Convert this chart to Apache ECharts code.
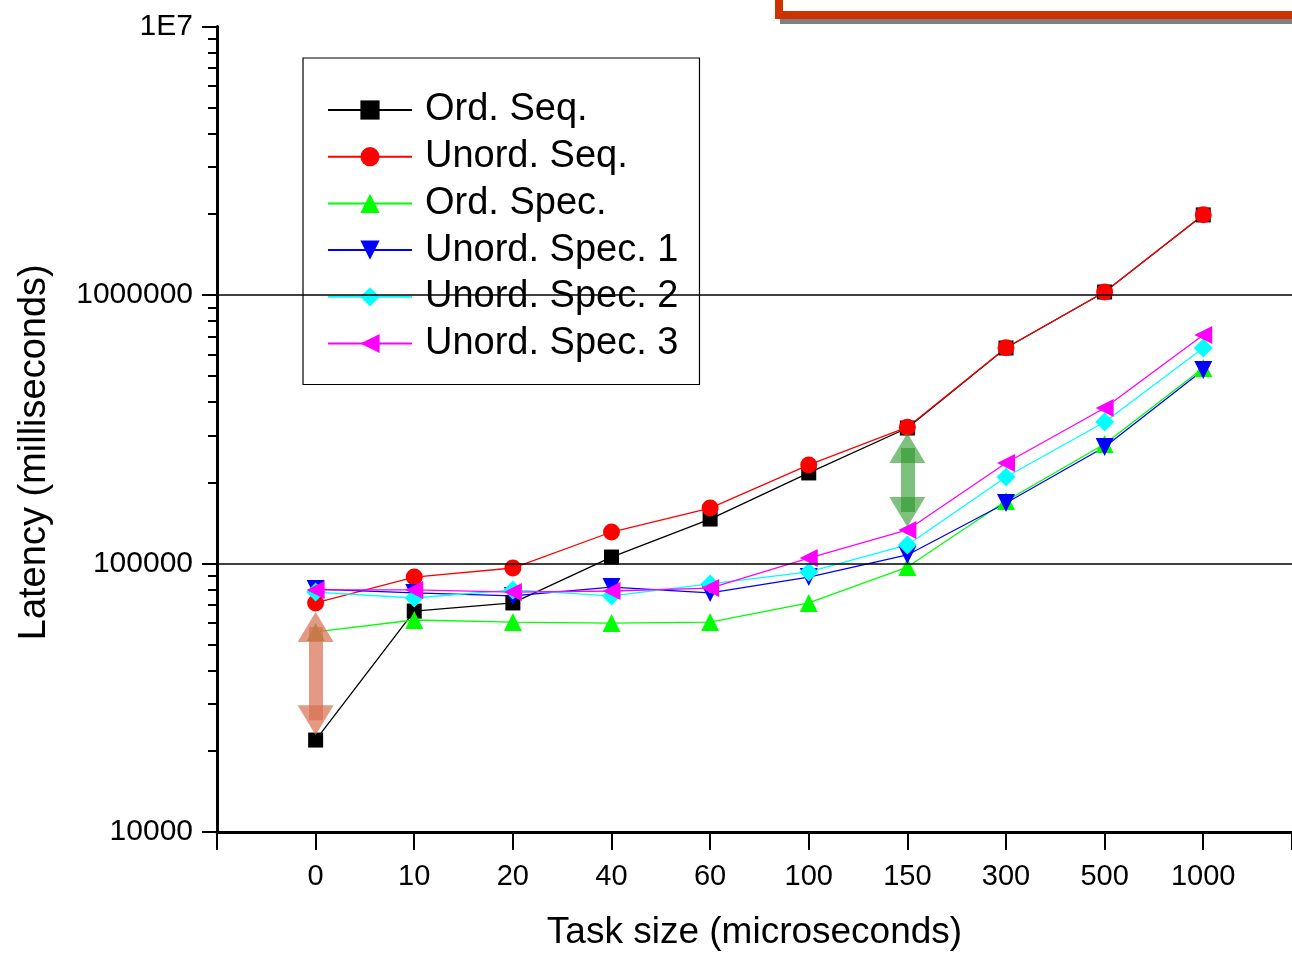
<!DOCTYPE html>
<html>
<head>
<meta charset="utf-8">
<script src="https://cdn.jsdelivr.net/npm/echarts@6/dist/echarts.min.js"></script>
<style>
html, body { margin: 0; padding: 0; background: #fff; }
#chart { width: 1292px; height: 953px; }
</style>
</head>
<body>
<div id="chart"></div>
<script>
var taskSizes = ['0', '10', '20', '40', '60', '100', '150', '300', '500', '1000'];

// latency in milliseconds
var ordSeq      = [22000, 66500, 71300, 105700, 146400, 217400, 319600, 634800, 1026000, 1987000];
var unordSeq    = [71300, 89000, 96200, 131000, 160900, 232800, 322000, 636000, 1026000, 1990000];
var ordSpec     = [55600, 61600, 60500, 60000, 60500, 71300, 97000, 170900, 278700, 534800];
var unordSpec1  = [80300, 77700, 75700, 81700, 77700, 89000, 107600, 168000, 271600, 525600];
var unordSpec2  = [78300, 74400, 79700, 75700, 83900, 93000, 117200, 210000, 336500, 634800];
var unordSpec3  = [79700, 79700, 78300, 79000, 81000, 104800, 133300, 236700, 379500, 709600];

var yTicks = [10000, 100000, 1000000, 10000000];
var minorTicks = [];
for (var d = 10000; d < 10000000; d *= 10) {
  for (var m = 2; m <= 9; m++) minorTicks.push(m * d);
}

var font = "'Liberation Sans', Arial, sans-serif";

function pairs(arr) {
  return arr.map(function (v, i) { return [i, v]; });
}

var chart = echarts.init(document.getElementById('chart'));

var gridBox = { left: 217, top: 26.5, right: 0, bottom: 121, outerBoundsMode: 'none' };

function mkSeries(name, data, color, symbol, size, rotate) {
  return {
    name: name,
    type: 'line',
    xAxisIndex: 0,
    yAxisIndex: 0,
    data: pairs(data),
    symbol: symbol,
    symbolSize: size,
    symbolRotate: rotate || 0,
    showAllSymbol: true,
    lineStyle: { color: color, width: 1.3 },
    itemStyle: { color: color },
    emphasis: { disabled: true },
    animation: false
  };
}

var series = [
  mkSeries('Ord. Seq.', ordSeq, '#000000', 'rect', 15),
  mkSeries('Unord. Seq.', unordSeq, '#ff0000', 'circle', 17),
  mkSeries('Ord. Spec.', ordSpec, '#00ff00', 'triangle', 18),
  mkSeries('Unord. Spec. 1', unordSpec1, '#0000ff', 'triangle', 18, 180),
  mkSeries('Unord. Spec. 2', unordSpec2, '#00ffff', 'diamond', 19),
  mkSeries('Unord. Spec. 3', unordSpec3, '#ff00ff', 'triangle', 18, 90)
];

// horizontal reference lines at the decades
series[0].markLine = {
  silent: true,
  symbol: 'none',
  animation: false,
  label: { show: false },
  lineStyle: { color: '#000', width: 1.5, type: 'solid' },
  data: [{ yAxis: 100000 }, { yAxis: 1000000 }]
};

// the two double arrows
series[5].markLine = {
  silent: true,
  symbol: ['triangle', 'triangle'],
  symbolSize: [36, 30],
  animation: false,
  label: { show: false },
  emphasis: { disabled: true },
  data: [
    [{ coord: [0, 58000], lineStyle: { color: 'rgba(215,110,80,0.7)', width: 14, type: 'solid' } },
     { coord: [0, 26100] }],
    [{ coord: [6, 269000], lineStyle: { color: 'rgba(40,150,40,0.6)', width: 14, type: 'solid' } },
     { coord: [6, 155500] }]
  ]
};

chart.setOption({
  backgroundColor: '#fff',
  animation: false,
  textStyle: { fontFamily: font },
  grid: [gridBox, gridBox],
  legend: {
    orient: 'vertical',
    left: 303,
    top: 58,
    padding: [33, 21, 22, 24],
    itemWidth: 84,
    itemHeight: 24,
    itemGap: 8.7,
    backgroundColor: '#fff',
    borderColor: '#000',
    borderWidth: 1.2,
    selectedMode: false,
    textStyle: { fontSize: 38, color: '#000', fontFamily: font, lineHeight: 38, padding: [0, 0, 0, 8] },
    data: series.map(function (s) { return s.name; })
  },
  xAxis: [
    {
      type: 'value',
      gridIndex: 0,
      min: -1,
      max: 9.9,
      interval: 1,
      name: 'Task size (microseconds)',
      nameLocation: 'middle',
      nameGap: 82,
      nameTextStyle: { fontSize: 37, color: '#000', fontFamily: font },
      axisLine: { show: true, onZero: false, lineStyle: { color: '#000', width: 3 } },
      axisTick: { show: true, inside: false, length: 18, lineStyle: { color: '#000', width: 2 } },
      axisLabel: {
        fontSize: 29,
        color: '#000',
        margin: 30,
        fontFamily: font,
        formatter: function (v) {
          return (v >= 0 && Math.abs(v - Math.round(v)) < 1e-6) ? taskSizes[Math.round(v)] : '';
        }
      },
      splitLine: { show: false }
    },
    {
      type: 'value',
      gridIndex: 1,
      min: -1,
      max: 9.9,
      show: false
    }
  ],
  yAxis: [
    {
      type: 'log',
      gridIndex: 0,
      logBase: 10,
      min: 10000,
      max: 10000000,
      name: 'Latency (milliseconds)',
      nameLocation: 'middle',
      nameGap: 163,
      nameRotate: 90,
      nameTextStyle: { fontSize: 38, color: '#000', fontFamily: font, padding: [0, 46, 0, 0] },
      axisLine: { show: true, onZero: false, lineStyle: { color: '#000', width: 3 } },
      axisTick: { show: true, inside: false, length: 15, customValues: yTicks, lineStyle: { color: '#000', width: 2 } },
      axisLabel: {
        fontSize: 30,
        color: '#000',
        margin: 24,
        fontFamily: font,
        customValues: yTicks,
        formatter: function (v) {
          var r = Math.round(v);
          return r === 10000000 ? '1E7' : String(r);
        }
      },
      splitLine: { show: false },
      minorTick: { show: false }
    },
    {
      type: 'log',
      gridIndex: 1,
      logBase: 10,
      min: 10000,
      max: 10000000,
      axisLine: { show: false, onZero: false },
      axisTick: { show: true, inside: false, length: 9, customValues: minorTicks, lineStyle: { color: '#000', width: 2 } },
      axisLabel: { show: false },
      splitLine: { show: false }
    }
  ],
  graphic: [
    { type: 'rect', shape: { x: 780, y: 19, width: 560, height: 5 }, style: { fill: '#808080' }, silent: true },
    { type: 'rect', shape: { x: 779, y: -30, width: 560, height: 45 }, style: { fill: '#fff', stroke: '#cc3300', lineWidth: 8 }, silent: true }
  ],
  series: series
});
</script>
</body>
</html>
